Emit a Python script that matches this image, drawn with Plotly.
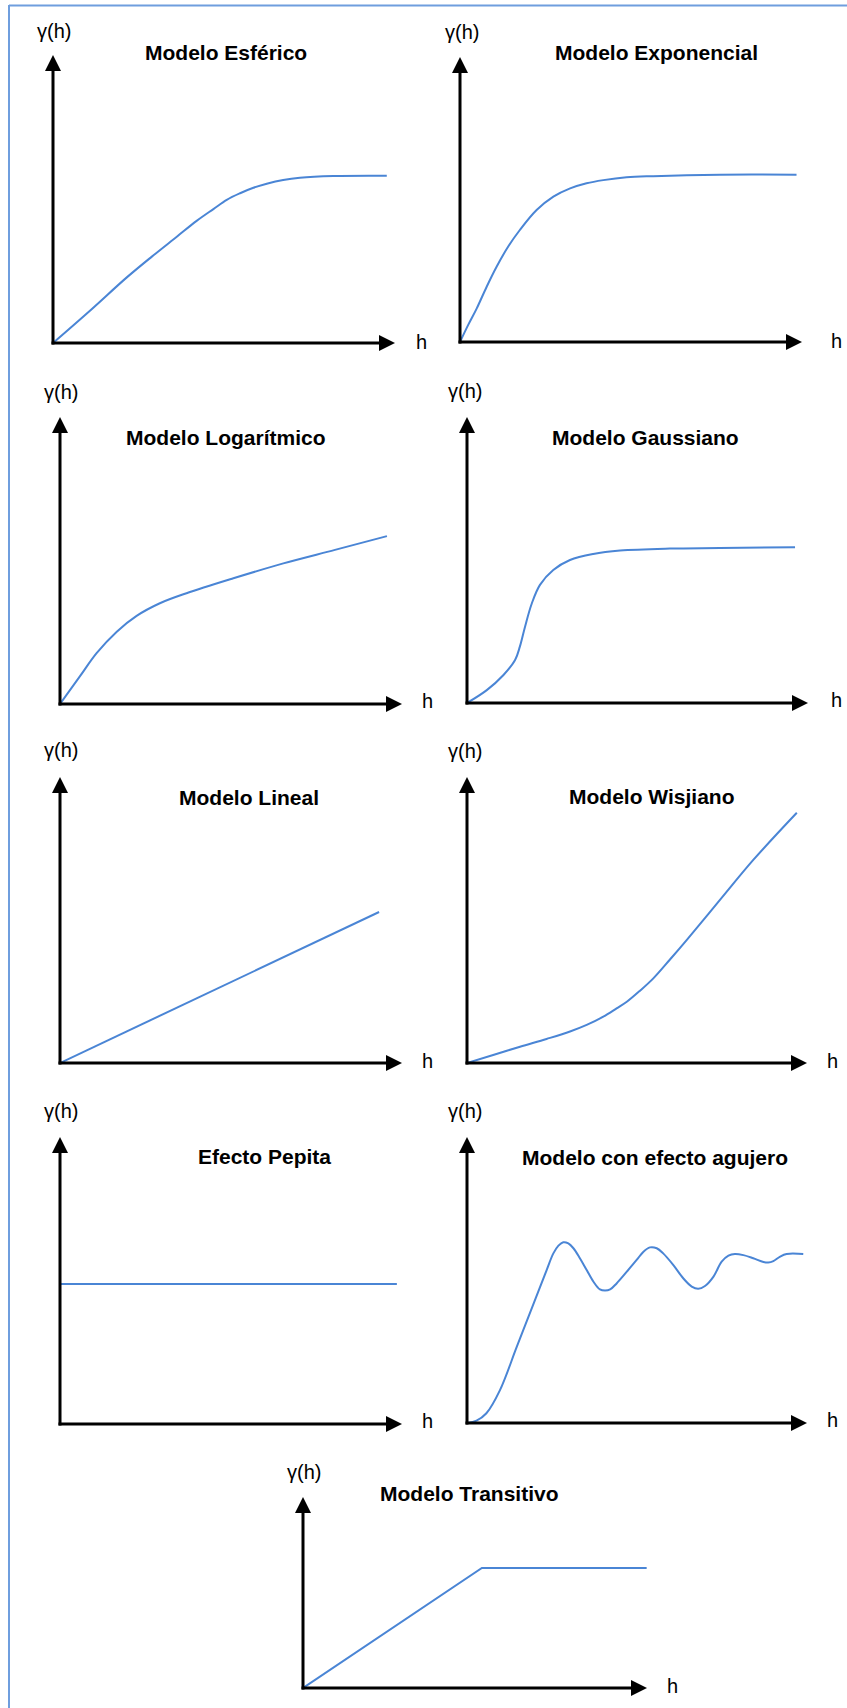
import plotly.graph_objects as go

W, H = 847, 1708
CURVE = "#4A85D5"
FONT = "Liberation Sans, Arial, sans-serif"

# ---- variogram model curves: h (lag) and gamma(h), in axis units ----
esferico_h = [0, 1.08, 2.15, 2.89, 3.62, 4.20, 4.69, 5.08, 5.47, 5.86, 6.25, 6.73, 7.22, 8.20, 9.76]
esferico_g = [0, 1.12, 2.27, 3.00, 3.69, 4.24, 4.65, 4.97, 5.20, 5.39, 5.53, 5.66, 5.74, 5.80, 5.81]

exponencial_h = [0, 0.24, 0.49, 0.78, 1.07, 1.41, 1.75, 2.24, 2.73, 3.22, 3.70, 4.19, 4.87, 5.65, 7.60, 9.84]
exponencial_g = [0, 0.60, 1.18, 1.94, 2.64, 3.35, 3.93, 4.63, 5.10, 5.39, 5.57, 5.68, 5.78, 5.82, 5.87, 5.87]

logaritmico_h = [0, 0.58, 1.07, 1.66, 2.24, 2.92, 3.70, 5.07, 6.53, 8.04, 9.56]
logaritmico_g = [0, 0.96, 1.77, 2.52, 3.07, 3.51, 3.86, 4.38, 4.90, 5.37, 5.85]

gaussiano_h = [0, 0.58, 1.07, 1.41, 1.55, 1.70, 1.90, 2.14, 2.53, 3.02, 3.70, 4.49, 5.95, 7.42, 9.62]
gaussiano_g = [0, 0.45, 0.98, 1.50, 1.97, 2.66, 3.48, 4.13, 4.65, 5.00, 5.21, 5.33, 5.40, 5.42, 5.45]

lineal_h = [0, 9.33]
lineal_g = [0, 5.28]

wisjiano_h = [0, 0.77, 1.56, 2.34, 3.03, 3.52, 4.01, 4.40, 4.70, 5.09, 5.48, 5.97, 6.46, 7.44, 8.42, 9.70]
wisjiano_g = [0, 0.28, 0.57, 0.84, 1.10, 1.33, 1.62, 1.91, 2.14, 2.53, 2.96, 3.62, 4.30, 5.70, 7.10, 8.75]

pepita_h = [0, 9.85]
pepita_g = [4.88, 4.88]

agujero_h = [0, 0.28, 0.57, 0.97, 1.46, 1.95, 2.34, 2.54, 2.69, 2.83, 2.98, 3.13, 3.32, 3.52,
             3.72, 3.91, 4.06, 4.21, 4.40, 4.70, 4.99, 5.19, 5.38, 5.58, 5.77, 6.07, 6.36,
             6.61, 6.80, 7.00, 7.25, 7.49, 7.69, 7.88, 8.13, 8.42, 8.72, 8.86, 9.01, 9.21,
             9.40, 9.89]
agujero_g = [0, 0.08, 0.34, 1.15, 2.65, 4.15, 5.34, 5.93, 6.20, 6.32, 6.28, 6.11, 5.76, 5.35,
             4.94, 4.67, 4.63, 4.67, 4.88, 5.29, 5.70, 5.99, 6.14, 6.11, 5.93, 5.52, 5.06,
             4.77, 4.69, 4.79, 5.12, 5.64, 5.85, 5.91, 5.87, 5.76, 5.63, 5.61, 5.66, 5.82,
             5.91, 5.91]

transitivo_h = [0, 5.20, 9.99]
transitivo_g = [0, 4.18, 4.18]

titles = ["Modelo Esférico", "Modelo Exponencial", "Modelo Logarítmico", "Modelo Gaussiano",
          "Modelo Lineal", "Modelo Wisjiano", "Efecto Pepita", "Modelo con efecto agujero",
          "Modelo Transitivo"]
y_label = "γ(h)"
x_label = "h"

series = [
    (esferico_h, esferico_g, "spline"),
    (exponencial_h, exponencial_g, "spline"),
    (logaritmico_h, logaritmico_g, "spline"),
    (gaussiano_h, gaussiano_g, "spline"),
    (lineal_h, lineal_g, "linear"),
    (wisjiano_h, wisjiano_g, "spline"),
    (pepita_h, pepita_g, "linear"),
    (agujero_h, agujero_g, "spline"),
    (transitivo_h, transitivo_g, "linear"),
]

# panel layout in pixels: origin x/y, x-arrow tip, y-arrow tip, y range,
# gamma label centre, title centre, h label centre
panels = [
    dict(ox=53, oy=343, tip=395, top=55, ymax=10, gl=(54, 31), tl=(226, 52), hl=(421, 342)),
    dict(ox=460, oy=342, tip=802, top=57, ymax=10, gl=(462, 32), tl=(656, 53), hl=(836, 341)),
    dict(ox=60, oy=704, tip=402, top=417, ymax=10, gl=(61, 392), tl=(226, 437), hl=(427, 701)),
    dict(ox=467, oy=703, tip=808, top=417, ymax=10, gl=(465, 391), tl=(645, 437), hl=(836, 700)),
    dict(ox=60, oy=1063, tip=402, top=777, ymax=10, gl=(61, 750), tl=(249, 797), hl=(427, 1061)),
    dict(ox=467, oy=1063, tip=807, top=777, ymax=10, gl=(465, 751), tl=(651, 796), hl=(832, 1061)),
    dict(ox=60, oy=1424, tip=402, top=1137, ymax=10, gl=(61, 1111), tl=(264, 1156), hl=(427, 1421)),
    dict(ox=467, oy=1423, tip=807, top=1137, ymax=10, gl=(465, 1111), tl=(655, 1157), hl=(832, 1420)),
    dict(ox=303, oy=1688, tip=647, top=1497, ymax=6.65, gl=(304, 1472), tl=(469, 1493), hl=(672, 1686)),
]


def px(x):
    return x / W


def py(y):
    return 1 - y / H


fig = go.Figure()
shapes = []
annotations = []
layout_axes = {}

for i, (p, (hx, gy, shape), title) in enumerate(zip(panels, series, titles), start=1):
    sfx = "" if i == 1 else str(i)
    fig.add_trace(go.Scatter(
        x=hx, y=gy, mode="lines",
        line=dict(color=CURVE, width=2, shape=shape, smoothing=1.0),
        xaxis="x" + sfx, yaxis="y" + sfx, cliponaxis=False,
        hoverinfo="skip", showlegend=False,
    ))
    layout_axes["xaxis" + sfx] = dict(
        domain=[px(p["ox"]), px(p["tip"])], range=[0, 10], visible=False,
        anchor="y" + sfx, fixedrange=True)
    layout_axes["yaxis" + sfx] = dict(
        domain=[py(p["oy"]), py(p["top"])], range=[0, p["ymax"]], visible=False,
        anchor="x" + sfx, fixedrange=True)

    ox, oy, tip, top = p["ox"], p["oy"], p["tip"], p["top"]
    axis_line = dict(color="black", width=3)
    shapes.append(dict(type="line", xref="paper", yref="paper",
                       x0=px(ox), x1=px(ox), y0=py(oy + 1.5), y1=py(top + 12), line=axis_line))
    shapes.append(dict(type="line", xref="paper", yref="paper",
                       x0=px(ox - 1.5), x1=px(tip - 12), y0=py(oy), y1=py(oy), line=axis_line))
    shapes.append(dict(
        type="path", xref="paper", yref="paper", fillcolor="black", line=dict(width=0),
        path=f"M {px(ox - 8)},{py(top + 16)} L {px(ox)},{py(top)} L {px(ox + 8)},{py(top + 16)} Z"))
    shapes.append(dict(
        type="path", xref="paper", yref="paper", fillcolor="black", line=dict(width=0),
        path=f"M {px(tip - 16)},{py(oy - 8)} L {px(tip)},{py(oy)} L {px(tip - 16)},{py(oy + 8)} Z"))

    annotations.append(dict(text=f"<b>{title}</b>", x=px(p["tl"][0]), y=py(p["tl"][1]),
                            xref="paper", yref="paper", showarrow=False,
                            xanchor="center", yanchor="middle",
                            font=dict(family=FONT, size=21, color="black")))
    annotations.append(dict(text=y_label, x=px(p["gl"][0]), y=py(p["gl"][1]),
                            xref="paper", yref="paper", showarrow=False,
                            xanchor="center", yanchor="middle",
                            font=dict(family=FONT, size=20, color="black")))
    annotations.append(dict(text=x_label, x=px(p["hl"][0]), y=py(p["hl"][1]),
                            xref="paper", yref="paper", showarrow=False,
                            xanchor="center", yanchor="middle",
                            font=dict(family=FONT, size=20, color="black")))

# page frame: thin blue rule on the left and along the top
frame = dict(color="#6F9EDE", width=2)
shapes.append(dict(type="line", xref="paper", yref="paper",
                   x0=px(9), x1=px(9), y0=py(5), y1=py(H), line=frame))
shapes.append(dict(type="line", xref="paper", yref="paper",
                   x0=px(9), x1=px(W), y0=py(5.5), y1=py(5.5), line=frame))

fig.update_layout(
    width=W, height=H, margin=dict(l=0, r=0, t=0, b=0),
    paper_bgcolor="white", plot_bgcolor="white",
    shapes=shapes, annotations=annotations, showlegend=False,
    **layout_axes,
)

fig.write_html("out.html", config={"displayModeBar": False})
